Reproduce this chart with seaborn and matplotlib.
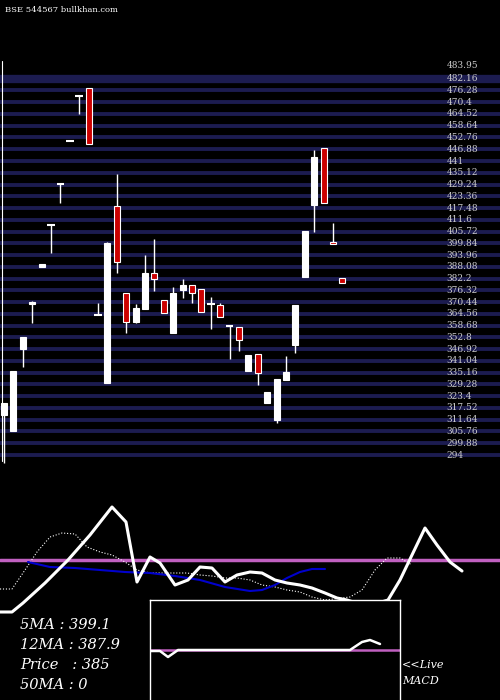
import matplotlib
matplotlib.use("Agg")
import matplotlib.pyplot as plt
import seaborn as sns
import pandas as pd
import numpy as np

sns.set_style("dark")
plt.rcParams['font.family'] = ['DejaVu Sans']

opens  = [314,306,347,369.5,388,409,429.5,451,473.5,477.5,364,330,418.5,375,360.5,367,385,371.5,355,376.5,379,377,369.5,369,358.5,358,336,344.5,320,311.5,331.5,349,383,419,447.5,400.5,382.5]
closes = [320,336,353,370.5,389.5,409,429.5,451,473.5,449.5,364,400,390.5,360.5,367.5,385,382,365,375,379,375,365.5,369.5,363,358.5,351.5,344,335,325.5,332,335.5,369,406,443,420,399.5,380]
highs  = [320,336,353,371,389.5,409,429.5,451,473.5,477.5,370,400.5,434.5,375,369.5,394,402,371.5,378,382,379,377,373,370,358.5,358,344,344.5,325.5,332,343.5,369,406,446.5,447.5,410,382.5]
lows   = [290,306,338,360,388,395,420,451,464.5,449.5,364,330,385,355,360,367,376,365,355,372.5,370,365.5,357,363,342,346,336,329,320,310,331.5,345,383,405.5,420,399.5,380]
price_labels = [482.16,476.28,470.4,464.52,458.64,452.76,446.88,441,435.12,429.24,423.36,417.48,411.6,405.72,399.84,393.96,388.08,382.2,376.32,370.44,364.56,358.68,352.8,346.92,341.04,335.16,329.28,323.4,317.52,311.64,305.76,299.88,294]

ind_x = [0,12,23,45,68,90,112,126,137,150,160,175,188,200,212,225,237,250,262,275,287,300,312,325,337,347,360,375,388,400,412,425,437,450,462]
ind_y = [88,88,97,117,140,165,193,178,118,143,137,115,120,133,132,118,125,128,127,120,117,115,112,107,102,100,96,96,100,120,145,172,155,138,129]
dot_x = [0,12,25,37,50,62,75,87,100,112,125,137,150,162,175,187,200,212,225,237,250,262,275,287,300,312,325,350,362,375,387,400,412]
dot_y = [111,111,130,148,163,167,166,153,148,145,138,130,127,127,127,127,125,124,122,122,120,115,113,110,108,103,100,103,110,130,142,142,135]
blue_x = [28,50,75,100,125,150,175,200,225,250,262,275,287,300,312,325]
blue_y = [138,133,132,130,128,127,124,120,113,109,110,115,122,128,131,131]
macd_x = [150,160,168,178,200,250,300,350,362,370,380]
macd_y = [49,49,43,50,50,50,50,50,58,60,56]

fig = plt.figure(figsize=(5,7), dpi=100, facecolor='black')
ax = fig.add_axes([0, 230/700, 1, 470/700])
ax.set_facecolor('black')
idx = np.arange(len(opens))
for p in price_labels:
    ax.axhline(p, color='#1c1c50', lw=2.8 if p != 482.16 else 6, zorder=0)
    ax.text(47.1, p, str(p), color='#cccccc', fontsize=6.5,
            va='center', ha='left', family='DejaVu Serif')
ax.text(47.1, 488.5, '483.95', color='#cccccc', fontsize=6.5, va='center', family='DejaVu Serif')
for i, o, c, h, l in zip(idx, opens, closes, highs, lows):
    col = 'white' if c >= o else '#cc0000'
    ax.vlines(i, l, h, color='white', lw=1)
    lo, hi = min(o, c), max(o, c)
    if hi - lo < 0.8:
        ax.hlines(hi, i-0.4, i+0.4, color='white' if col=='white' else '#cc0000', lw=1.5)
    else:
        ax.bar(i, hi-lo, bottom=lo, width=0.65, color=col, edgecolor='white', lw=0.8, zorder=3)
ax.axvline(-0.25, ymin=0.02, ymax=0.87, color='white', lw=0.8)
ax.set_xlim(-0.426, 52.77)
ax.set_ylim(286.5, 521.5)
ax.set_xticks([]); ax.set_yticks([])
for s in ax.spines.values(): s.set_visible(False)
fig.text(0.01, 0.992, 'BSE 544567 bullkhan.com', color='white', fontsize=6, va='top', family='DejaVu Serif')

bx = fig.add_axes([0, 0, 1, 210/700])
bx.set_facecolor('black')
bx.set_xlim(0, 500); bx.set_ylim(0, 210)
bx.axhline(140, color='#c060c0', lw=2.5)
sns.lineplot(x=dot_x, y=dot_y, ax=bx, color='white', lw=0.8, linestyle=':', sort=False)
sns.lineplot(x=blue_x, y=blue_y, ax=bx, color='#0000cc', lw=1.5, sort=False)
sns.lineplot(x=ind_x, y=ind_y, ax=bx, color='white', lw=2.2, sort=False)
ins = fig.add_axes([150/500, 0, 250/500, 100/700])
ins.set_facecolor('black')
ins.set_xlim(150, 400); ins.set_ylim(0, 100)
ins.axhline(50, color='#c060c0', lw=1.8)
sns.lineplot(x=macd_x, y=macd_y, ax=ins, color='white', lw=1.8, sort=False)
ins.set_xticks([]); ins.set_yticks([])
for s in ins.spines.values(): s.set_color('white'); s.set_linewidth(1)
ins.spines['bottom'].set_visible(False)
bx.set_xticks([]); bx.set_yticks([]); bx.set_xlabel(''); bx.set_ylabel('')
for s in bx.spines.values(): s.set_visible(False)
for j, t in enumerate(['5MA : 399.1', '12MA : 387.9', 'Price   : 385', '50MA : 0']):
    fig.text(20/500, 1-(625+20*j)/700, t, color='white', fontsize=10.5, style='italic',
             family='DejaVu Serif', va='center')
fig.text(402/500, 1-665/700, '<<Live', color='white', fontsize=8, style='italic', family='DejaVu Serif', va='center')
fig.text(402/500, 1-681/700, 'MACD', color='white', fontsize=8, style='italic', family='DejaVu Serif', va='center')
fig.savefig('out.png', dpi=100, facecolor='black')
